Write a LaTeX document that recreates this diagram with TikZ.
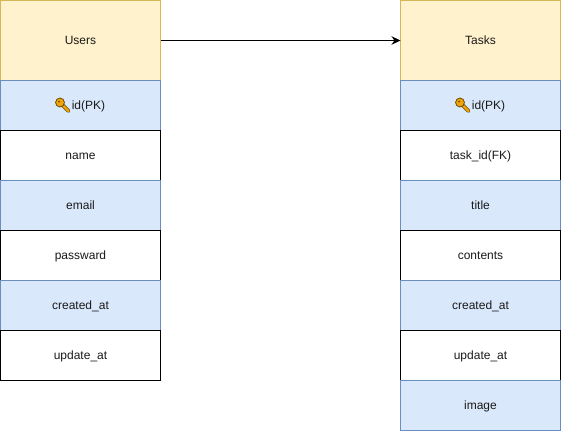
\documentclass[tikz,border=0pt]{standalone}
\usepackage{fontspec}
\setmainfont{Liberation Sans}
\usetikzlibrary{arrows.meta,calc}
\definecolor{hfill}{HTML}{FFF2CC}
\definecolor{hline}{HTML}{D6B656}
\definecolor{bfill}{HTML}{DAE8FC}
\definecolor{bline}{HTML}{6C8EBF}
\definecolor{txt}{HTML}{1A1A1A}
\definecolor{keyfill}{HTML}{F0A30A}
\definecolor{keyline}{HTML}{6B4A00}
\tikzset{
  x=1pt,y=-1pt,
  cell/.style={minimum width=160pt,inner sep=0pt,outer sep=0pt,line width=1pt,font=\fontsize{12}{14}\selectfont,text=txt,anchor=north west,text height=11pt,text depth=3pt},
  headbox/.style={cell,draw=hline,fill=hfill,minimum height=80pt},
  bluebox/.style={cell,draw=bline,fill=bfill,minimum height=50pt},
  whitebox/.style={cell,draw=black,fill=white,minimum height=50pt},
  keyicon/.pic={
    \draw[keyline,line width=3.6pt,line cap=round] (-1,-1) -- (6,6);
    \draw[keyfill,line width=2.4pt,line cap=round] (-1,-1) -- (6,6);
    \fill[keyline] (-2.5,-2.5) circle (4.9pt);
    \fill[keyfill] (-2.5,-2.5) circle (3.9pt);
    \fill[keyline] (-3.4,-3.4) circle (1pt);
  }
}
\begin{document}
\begin{tikzpicture}
\useasboundingbox (0,0) rectangle (561,431);
% Users
\node[headbox] (users) at (0.5,0.5) {Users};
\node[bluebox] (uid) at (0.5,80.5) {\hspace{16pt}id(PK)};
\node[whitebox] (uname) at (0.5,130.5) {name};
\node[bluebox] (uemail) at (0.5,180.5) {email};
\node[whitebox] (upass) at (0.5,230.5) {passward};
\node[bluebox] (ucreated) at (0.5,280.5) {created\_at};
\node[whitebox] (uupdate) at (0.5,330.5) {update\_at};
% Tasks
\node[headbox] (tasks) at (400.5,0.5) {Tasks};
\node[bluebox] (tid) at (400.5,80.5) {\hspace{16pt}id(PK)};
\node[whitebox] (ttask) at (400.5,130.5) {task\_id(FK)};
\node[bluebox] (ttitle) at (400.5,180.5) {title};
\node[whitebox] (tcont) at (400.5,230.5) {contents};
\node[bluebox] (tcreated) at (400.5,280.5) {created\_at};
\node[whitebox] (tupdate) at (400.5,330.5) {update\_at};
\node[bluebox] (timage) at (400.5,380.5) {image};
% key icons
\pic at ($(uid.center)+(-18,-0.5)$) {keyicon};
\pic at ($(tid.center)+(-18,-0.5)$) {keyicon};
% connector
\draw[line width=1pt,-{Stealth[length=9pt,width=8.5pt]}] (users.east) -- (tasks.west);
\end{tikzpicture}
\end{document}
